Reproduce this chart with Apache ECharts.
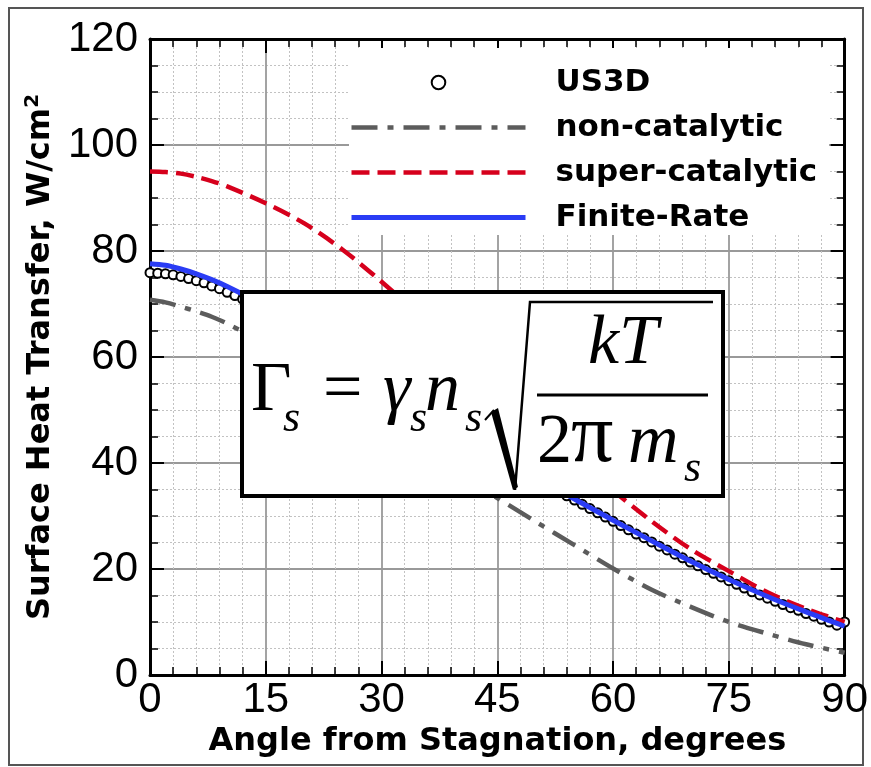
<!DOCTYPE html>
<html>
<head>
<meta charset="utf-8">
<script src="https://cdn.jsdelivr.net/npm/echarts@6/dist/echarts.min.js"></script>
<style>
  html, body { margin: 0; padding: 0; background: #fff; }
  #chart { width: 871px; height: 767px; }
</style>
</head>
<body>
<div id="chart"></div>
<script>
// Angles (degrees from stagnation) at which the model curves are sampled
const lineAngles = [0, 2, 4, 6, 8, 10, 15, 20, 25, 30, 35, 40, 45, 50, 55, 60, 65, 70, 75, 80, 85, 90];

// Surface heat transfer, W/cm^2
const nonCatalytic   = [70.8, 70.3, 69.5, 68.6, 67.6, 66.3, 62.4, 57.8, 52.9, 47.9, 42.9, 38.0, 33.4, 28.9, 24.5, 20.1, 16.1, 12.9, 10.0, 7.8, 5.8, 4.2];
const superCatalytic = [95.0, 94.9, 94.6, 94.0, 93.2, 92.2, 89.0, 85.2, 80.2, 74.2, 67.8, 61.2, 54.6, 48.0, 41.2, 34.8, 29.0, 23.8, 19.6, 15.6, 12.5, 10.0];
const finiteRate     = [77.6, 77.3, 76.6, 75.7, 74.6, 73.3, 69.6, 65.3, 60.7, 55.9, 51.1, 46.4, 41.8, 37.4, 33.2, 29.2, 25.3, 21.5, 18.0, 14.8, 11.9, 9.2];

// US3D solution points
const us3dAngles = [
  0, 1, 2, 3, 4, 5, 6, 7, 8, 9, 10, 11, 12, 13, 14, 15, 16, 17, 18, 19,
  20, 21, 22, 23, 24, 25, 26, 27, 28, 29, 30, 31, 32, 33, 34, 35, 36, 37, 38, 39,
  40, 41, 42, 43, 44, 45, 46, 47, 48, 49, 50, 51, 52, 53, 54, 55, 56, 57, 58, 59,
  60, 61, 62, 63, 64, 65, 66, 67, 68, 69, 70, 71, 72, 73, 74, 75, 76, 77, 78, 79,
  80, 81, 82, 83, 84, 85, 86, 87, 88, 89, 90
];
const us3dHeat = [
  75.9, 75.8, 75.7, 75.5, 75.2, 74.8, 74.4, 74.0, 73.4, 72.9, 72.2, 71.6, 70.9, 70.3, 69.5, 68.7, 68.0, 67.1, 66.3, 65.4,
  64.6, 63.7, 62.8, 61.9, 61.0, 60.1, 59.1, 58.2, 57.3, 56.4, 55.4, 54.4, 53.5, 52.5, 51.6, 50.7, 49.7, 48.8, 47.9, 46.9,
  46.0, 45.2, 44.2, 43.3, 42.4, 41.5, 40.6, 39.7, 38.8, 38.0, 37.2, 36.3, 35.5, 34.7, 33.8, 33.0, 32.2, 31.4, 30.6, 29.8,
  29.0, 28.2, 27.4, 26.6, 25.9, 25.1, 24.3, 23.6, 22.8, 22.1, 21.3, 20.6, 19.9, 19.2, 18.5, 17.8, 17.1, 16.4, 15.7, 15.1,
  14.5, 13.9, 13.3, 12.7, 12.2, 11.6, 11.1, 10.5, 10.0, 9.4, 10.0
];

const pairs = (xs, ys) => xs.map((x, i) => [x, ys[i]]);

const chart = echarts.init(document.getElementById('chart'), null, { renderer: 'canvas' });

const tickFont = 'Liberation Sans';
const titleFont = 'DejaVu Sans';

// Mirror axes on the top and right: frame line plus inward ticks, no labels
function frameAxis(extra) {
  return Object.assign({
    type: 'value',
    axisLine: { show: true, onZero: false, lineStyle: { color: '#000', width: 3 } },
    axisTick: { show: true, inside: true, length: 14, lineStyle: { color: '#000', width: 2 } },
    axisLabel: { show: false },
    splitLine: { show: false },
    minorSplitLine: { show: false }
  }, extra);
}

// Formula annotation: Γs = γs ns sqrt(kT / 2π ms)
const serif = '"Liberation Serif", "Times New Roman", serif';
function glyph(str, x, baseline, size, italic, align) {
  return {
    type: 'text', x: x, y: baseline - 0.3375 * size, z: 102, silent: true,
    style: {
      text: str, fill: '#000', align: align || 'left', verticalAlign: 'middle',
      font: (italic ? 'italic ' : '') + size + 'px ' + serif
    }
  };
}

const formula = [
  { type: 'rect', z: 100, silent: true,
    shape: { x: 242, y: 292, width: 481, height: 204 },
    style: { fill: '#fff', stroke: '#000', lineWidth: 4 } },
  glyph('Γ', 251, 415, 70, false),
  glyph('s', 283, 434, 44, true),
  glyph('=', 323, 415, 70, false),
  glyph('γ', 383, 415, 70, true),
  glyph('s', 410, 434, 44, true),
  glyph('n', 425, 415, 70, true),
  glyph('s', 465, 434, 44, true),
  // radical sign
  { type: 'polyline', z: 102, silent: true,
    shape: { points: [[485, 420], [494, 410]] },
    style: { stroke: '#000', lineWidth: 2, fill: null } },
  { type: 'polygon', z: 102, silent: true,
    shape: { points: [[491, 412], [498, 408], [518, 487], [513, 490]] },
    style: { fill: '#000' } },
  { type: 'polyline', z: 102, silent: true,
    shape: { points: [[515, 490], [530, 302], [713, 302]] },
    style: { stroke: '#000', lineWidth: 2.5, fill: null } },
  glyph('kT', 623, 368, 70, true, 'center'),
  { type: 'line', z: 102, silent: true,
    shape: { x1: 537, y1: 395, x2: 708, y2: 395 },
    style: { stroke: '#000', lineWidth: 3 } },
  glyph('2', 537, 467, 70, false),
  glyph('π', 571, 467, 84, false),
  glyph('m', 628, 467, 70, true),
  glyph('s', 684, 484, 44, true)
];

const option = {
  animation: false,
  backgroundColor: '#fff',
  grid: { left: 150, top: 39, width: 695, height: 636, containLabel: false },
  legend: {
    orient: 'vertical',
    left: 349, top: 48,
    padding: [19, 12, 2, 0],
    itemWidth: 174, itemHeight: 17, itemGap: 14,
    backgroundColor: '#fff',
    selectedMode: false,
    textStyle: { fontFamily: titleFont, fontWeight: 'bold', fontSize: 31, color: '#000', padding: [0, 0, 0, 25] },
    data: [
      { name: 'US3D', lineStyle: { opacity: 0 } },
      { name: 'non-catalytic', itemStyle: { opacity: 0 }, lineStyle: { width: 4.5 } },
      { name: 'super-catalytic', itemStyle: { opacity: 0 }, lineStyle: { width: 4.5 } },
      { name: 'Finite-Rate', itemStyle: { opacity: 0 }, lineStyle: { width: 5 } }
    ]
  },
  xAxis: [
    {
      type: 'value', min: 0, max: 90, interval: 15, position: 'bottom',
      axisLine: { show: true, onZero: false, lineStyle: { color: '#000', width: 3 } },
      axisTick: { show: true, inside: true, length: 14, lineStyle: { color: '#000', width: 2 } },
      minorTick: { show: true, splitNumber: 5, length: 8, lineStyle: { color: '#000', width: 1.5 } },
      splitLine: { show: true, lineStyle: { color: '#999', width: 1.8 } },
      minorSplitLine: { show: true, lineStyle: { color: '#c2c2c2', width: 1, type: [2, 2] } },
      axisLabel: { fontFamily: tickFont, fontSize: 42, color: '#000', margin: 4 },
      name: 'Angle from Stagnation, degrees',
      nameLocation: 'middle', nameGap: 50,
      nameTextStyle: { fontFamily: titleFont, fontWeight: 'bold', fontSize: 32, color: '#000' }
    },
    frameAxis({ min: 0, max: 90, interval: 15, position: 'top',
      minorTick: { show: true, splitNumber: 5, length: 8, lineStyle: { color: '#000', width: 1.5 } } })
  ],
  yAxis: [
    {
      type: 'value', min: 0, max: 120, interval: 20, position: 'left',
      axisLine: { show: true, onZero: false, lineStyle: { color: '#000', width: 3 } },
      axisTick: { show: true, inside: true, length: 14, lineStyle: { color: '#000', width: 2 } },
      minorTick: { show: true, splitNumber: 4, length: 8, lineStyle: { color: '#000', width: 1.5 } },
      splitLine: { show: true, lineStyle: { color: '#999', width: 1.8 } },
      minorSplitLine: { show: true, lineStyle: { color: '#c2c2c2', width: 1, type: [2, 2] } },
      axisLabel: { fontFamily: tickFont, fontSize: 42, color: '#000', margin: 12 },
      name: 'Surface Heat Transfer, W/cm{sup|2}',
      nameLocation: 'middle', nameGap: 89, nameRotate: 90,
      nameTextStyle: {
        fontFamily: titleFont, fontWeight: 'bold', fontSize: 32, color: '#000',
        rich: { sup: { fontFamily: titleFont, fontWeight: 'bold', fontSize: 20, color: '#000', verticalAlign: 'top', padding: [0, 0, 16, 0] } }
      }
    },
    frameAxis({ min: 0, max: 120, interval: 20, position: 'right',
      minorTick: { show: true, splitNumber: 4, length: 8, lineStyle: { color: '#000', width: 1.5 } } })
  ],
  series: [
    {
      name: 'US3D', type: 'line', data: pairs(us3dAngles, us3dHeat),
      symbol: 'emptyCircle', symbolSize: 9, showSymbol: true, showAllSymbol: true,
      itemStyle: { color: '#000', borderWidth: 2 },
      lineStyle: { width: 0, opacity: 0 },
      clip: false, z: 3
    },
    {
      name: 'non-catalytic', type: 'line', data: pairs(lineAngles, nonCatalytic),
      smooth: 0.3, showSymbol: false, symbol: 'circle', color: '#5c5c5c',
      lineStyle: { color: '#5c5c5c', width: 4.5, type: [26, 10, 6, 10] }, z: 4
    },
    {
      name: 'super-catalytic', type: 'line', data: pairs(lineAngles, superCatalytic),
      smooth: 0.3, showSymbol: false, symbol: 'circle', color: '#d6001c',
      lineStyle: { color: '#d6001c', width: 4.5, type: [18, 8] }, z: 5
    },
    {
      name: 'Finite-Rate', type: 'line', data: pairs(lineAngles, finiteRate),
      smooth: 0.3, showSymbol: false, symbol: 'circle', color: '#2a3cf5',
      lineStyle: { color: '#2a3cf5', width: 5 }, z: 6
    }
  ],
  graphic: [
    { type: 'rect', z: -10, silent: true,
      shape: { x: 9, y: 8, width: 854, height: 757 },
      style: { fill: 'none', stroke: '#555', lineWidth: 2 } }
  ].concat(formula)
};

chart.setOption(option);
</script>
</body>
</html>
